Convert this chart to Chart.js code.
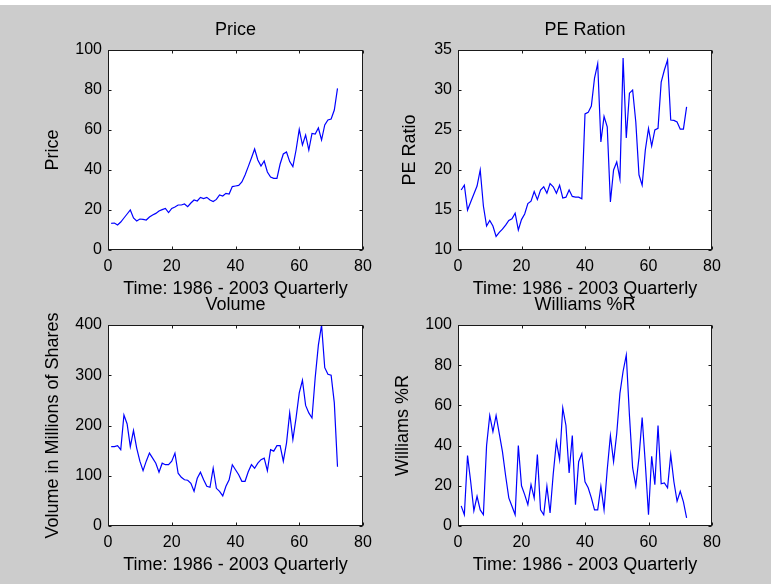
<!DOCTYPE html>
<html>
<head>
<meta charset="utf-8">
<title>Quarterly stock indicators 1986 - 2003</title>
<script src="https://cdn.jsdelivr.net/npm/chart.js@4.4.1/dist/chart.umd.min.js"></script>
<style>
  html, body { margin: 0; padding: 0; background: #cccccc; }
  #page { position: relative; width: 771px; height: 584px; background: #cccccc; overflow: hidden; }
  #topband { position: absolute; left: 0; top: 0; width: 771px; height: 5px; background: #ffffff; }
  #page canvas { position: absolute; left: 0; top: 0; }
</style>
</head>
<body>
<div id="page">
  <div id="topband"></div>
  <canvas id="cPrice" width="771" height="584"></canvas>
  <canvas id="cPE" width="771" height="584"></canvas>
  <canvas id="cVolume" width="771" height="584"></canvas>
  <canvas id="cWilliams" width="771" height="584"></canvas>
</div>
<script>
// Quarter number (1 = first quarter of 1986, 72 = last quarter of 2003)
const quarterIndex = Array.from({ length: 72 }, (_, i) => i + 1);

const priceValues = [
  13.3, 13.5, 12.5, 14, 16, 18, 20, 16, 14.5, 15.5,
  15.3, 15, 16.5, 17.5, 18.3, 19.5, 20.2, 20.8, 18.7, 20.8,
  21.5, 22.5, 22.5, 23, 21.7, 23.5, 25, 24.5, 26.3, 25.7,
  26.3, 25, 24.2, 25.3, 27.5, 27, 28.3, 28, 31.7, 32,
  32.3, 34, 37.5, 41.7, 46, 50.5, 45, 42, 44.5, 39,
  36.5, 35.8, 35.8, 43, 48, 49, 44.2, 41.7, 50, 60.3,
  52.5, 57.5, 50, 58.3, 58, 61, 55, 62.5, 65, 65.5,
  70, 80.8
];

const peRatioValues = [
  17.5, 18.1, 15, 16, 17, 18, 20, 15.5, 13, 13.7,
  13, 11.7, 12.2, 12.6, 13.1, 13.7, 13.9, 14.6, 12.5, 13.8,
  14.5, 15.8, 16.1, 17.3, 16.3, 17.5, 17.9, 17.1, 18.3, 17.9,
  17.1, 18.1, 16.5, 16.6, 17.5, 16.7, 16.6, 16.6, 16.4, 27,
  27.2, 28, 31.5, 33.3, 23.5, 26.7, 25.4, 16, 20, 21,
  18.9, 34, 24, 29.6, 30, 26, 19.4, 18.1, 22.5, 25.2,
  23, 25, 25.2, 31, 32.5, 33.75, 26.25, 26.2, 26, 25.1,
  25.1, 27.9
];

const volumeValues = [
  158, 158, 160, 152, 221, 203, 158, 190, 155, 129,
  110, 129, 145, 135, 125, 107, 125, 122, 122, 129,
  145, 105, 97, 92, 91, 85, 69, 95, 107, 92,
  79, 77, 115, 75, 69, 60, 79, 92, 122, 112,
  102, 89, 89, 108, 122, 115, 125, 132, 135, 110,
  152, 149, 160, 160, 129, 165, 225, 172, 215, 265,
  290, 240, 225, 215, 295, 360, 400, 315, 302, 300,
  245, 118
];

const williamsValues = [
  10, 5.6, 35, 22, 7.6, 14.8, 8, 5.6, 40, 55,
  47, 55, 46, 37, 25, 14, 9.8, 5.6, 40, 20,
  15.6, 10.6, 20.6, 13.9, 35.5, 8, 5.6, 19.8, 6.5, 26,
  42, 33, 58.7, 50, 26.4, 45, 10.6, 32, 36, 22,
  19, 14, 8, 8, 19.8, 8, 28, 45, 32, 46,
  66, 77, 85, 55, 29, 20, 34, 54, 31, 5.6,
  34.7, 20.6, 50, 21, 21.4, 19, 35.5, 22, 12.3, 17.3,
  12, 4
];

// Tick labels of each axis
const timeTicks = [0, 20, 40, 60, 80];
const priceTicks = [0, 20, 40, 60, 80, 100];
const peRatioTicks = [10, 15, 20, 25, 30, 35];
const volumeTicks = [0, 100, 200, 300, 400];
const williamsTicks = [0, 20, 40, 60, 80, 100];

const timeLabel = 'Time: 1986 - 2003 Quarterly';

// ---- layout of the 2 x 2 figure ----
const PAGE_W = 771, PAGE_H = 584;
const Y_AXIS_W = 70, RIGHT_AXIS_W = 20, TOP_AXIS_H = 50, X_AXIS_H = 55;
const FONT_FAMILY = '"Liberation Sans", Arial, Helvetica, sans-serif';
const tickFont = { family: FONT_FAMILY, size: 16, lineHeight: 1.2 };
const labelFont = { family: FONT_FAMILY, size: 18, lineHeight: 1.2 };
const TEXT_COLOR = '#000000';
const LINE_COLOR = '#0000ff';
const TICK_LEN = 3;

const panels = [
  { canvas: 'cPrice', title: 'Price', yTitle: 'Price', values: priceValues, yTicks: priceTicks,
    area: { left: 108, top: 50, right: 363, bottom: 250 }, yTitleX: 53 },
  { canvas: 'cPE', title: 'PE Ration', yTitle: 'PE Ratio', values: peRatioValues, yTicks: peRatioTicks,
    area: { left: 458, top: 50, right: 712, bottom: 250 }, yTitleX: 410 },
  { canvas: 'cVolume', title: 'Volume', yTitle: 'Volume in Millions of Shares', values: volumeValues, yTicks: volumeTicks,
    area: { left: 108, top: 325, right: 363, bottom: 526 }, yTitleX: 53 },
  { canvas: 'cWilliams', title: 'Williams %R', yTitle: 'Williams %R', values: williamsValues, yTicks: williamsTicks,
    area: { left: 458, top: 325, right: 712, bottom: 526 }, yTitleX: 403 }
];

// White axes background, then a boxed frame with inward tick marks on all four sides
const axesFrame = {
  id: 'axesFrame',
  beforeDraw(chart) {
    const a = chart.chartArea, ctx = chart.ctx;
    ctx.save();
    ctx.fillStyle = '#ffffff';
    ctx.fillRect(a.left, a.top, a.right - a.left, a.bottom - a.top);
    ctx.restore();
  },
  afterDraw(chart) {
    const a = chart.chartArea, ctx = chart.ctx;
    const L = Math.round(a.left) + 0.5, R = Math.round(a.right) - 0.5;
    const T = Math.round(a.top) + 0.5, B = Math.round(a.bottom) - 0.5;
    ctx.save();
    ctx.strokeStyle = '#1a1a1a';
    ctx.lineWidth = 1;
    ctx.beginPath();
    chart.scales.x.ticks.forEach(t => {
      const px = Math.round(chart.scales.x.getPixelForValue(t.value)) + 0.5;
      ctx.moveTo(px, B); ctx.lineTo(px, B - TICK_LEN);
      ctx.moveTo(px, T); ctx.lineTo(px, T + TICK_LEN);
    });
    chart.scales.y.ticks.forEach(t => {
      const py = Math.round(chart.scales.y.getPixelForValue(t.value)) + 0.5;
      ctx.moveTo(L, py); ctx.lineTo(L + TICK_LEN, py);
      ctx.moveTo(R, py); ctx.lineTo(R - TICK_LEN, py);
    });
    ctx.stroke();
    ctx.strokeRect(L, T, R - L, B - T);
    ctx.restore();
  }
};

const hiddenAxis = (extra) => Object.assign({
  type: 'linear',
  display: true,
  ticks: { display: false },
  grid: { display: false, drawTicks: false },
  border: { display: false }
}, extra);

panels.forEach(p => {
  const a = p.area;
  const yTitlePad = p.yTitleX - (a.left - Y_AXIS_W) - labelFont.size * labelFont.lineHeight / 2;
  new Chart(document.getElementById(p.canvas), {
    type: 'line',
    data: {
      datasets: [{
        data: quarterIndex.map((q, i) => ({ x: q, y: p.values[i] })),
        borderColor: LINE_COLOR,
        borderWidth: 1.2,
        pointRadius: 0,
        tension: 0,
        fill: false
      }]
    },
    plugins: [axesFrame],
    options: {
      responsive: false,
      animation: false,
      devicePixelRatio: 1,
      events: [],
      layout: {
        padding: {
          left: a.left - Y_AXIS_W,
          top: a.top - TOP_AXIS_H,
          right: PAGE_W - a.right - RIGHT_AXIS_W,
          bottom: PAGE_H - a.bottom - X_AXIS_H
        }
      },
      plugins: { legend: { display: false }, tooltip: { enabled: false }, title: { display: false } },
      scales: {
        x: {
          type: 'linear',
          position: 'bottom',
          min: timeTicks[0],
          max: timeTicks[timeTicks.length - 1],
          ticks: { stepSize: timeTicks[1] - timeTicks[0], color: TEXT_COLOR, font: tickFont, padding: 7, maxRotation: 0, autoSkip: false },
          grid: { display: false, drawTicks: false },
          border: { display: false },
          title: { display: true, text: timeLabel, color: TEXT_COLOR, font: labelFont, padding: { top: 0, bottom: 5 } },
          afterFit(s) { s.height = X_AXIS_H; }
        },
        xTop: hiddenAxis({
          position: 'top',
          min: timeTicks[0],
          max: timeTicks[timeTicks.length - 1],
          title: { display: true, text: p.title, color: TEXT_COLOR, font: labelFont, padding: { top: 19.2, bottom: 0 } },
          afterFit(s) { s.height = TOP_AXIS_H; }
        }),
        y: {
          type: 'linear',
          position: 'left',
          min: p.yTicks[0],
          max: p.yTicks[p.yTicks.length - 1],
          ticks: { stepSize: p.yTicks[1] - p.yTicks[0], color: TEXT_COLOR, font: tickFont, padding: 6, autoSkip: false },
          grid: { display: false, drawTicks: false },
          border: { display: false },
          title: { display: true, text: p.yTitle, color: TEXT_COLOR, font: labelFont, padding: { top: yTitlePad, bottom: 0 } },
          afterFit(s) { s.width = Y_AXIS_W; }
        },
        yRight: hiddenAxis({
          position: 'right',
          min: p.yTicks[0],
          max: p.yTicks[p.yTicks.length - 1],
          afterFit(s) { s.width = RIGHT_AXIS_W; }
        })
      }
    }
  });
});
</script>
</body>
</html>
